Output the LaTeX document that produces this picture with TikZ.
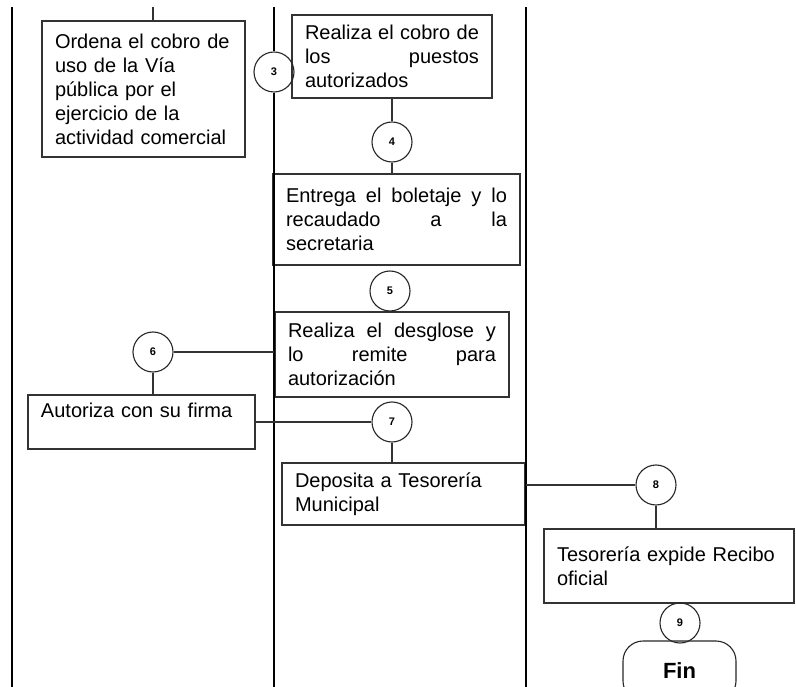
\documentclass[tikz,border=0pt]{standalone}
\usepackage{fontspec}
\setmainfont{Liberation Sans}
\begin{document}
\begin{tikzpicture}[x=1pt,y=-1pt,
    proc/.style={draw=black!80,line width=1.1pt,inner xsep=13pt,inner ysep=0pt,
      font=\fontsize{20}{24}\selectfont},
    paso/.style={circle,draw=black!85,line width=1.1pt,minimum size=40pt,inner sep=0pt,
      font=\fontsize{11}{12}\selectfont\bfseries},
    lane/.style={line width=1.4pt},
    conn/.style={draw=black!80,line width=1.1pt}]
  \useasboundingbox (0,0) rectangle (796,687);
  % actividades
  \node[proc,text width=177pt,minimum height=136pt,align=left] (ordena) at (143.5,89)
    {Ordena el cobro de\\uso de la Vía\\pública por el\\ejercicio de la\\actividad comercial};
  \node[proc,text width=174pt,minimum height=83pt,align=justify] (cobro) at (392,56.5)
    {Realiza el cobro de\linebreak los puestos\linebreak autorizados};
  \node[proc,text width=221pt,minimum height=91pt,align=justify] (entrega) at (396.5,219.5)
    {Entrega el boletaje y lo\linebreak recaudado a la\linebreak secretaria};
  \node[proc,text width=208pt,minimum height=85pt,align=justify] (desglose) at (392,354.5)
    {Realiza el desglose y\linebreak lo remite para\linebreak autorización};
  \node[proc,text width=201pt,minimum height=54pt,align=left] (autoriza) at (141.5,422)
    {Autoriza con su firma\\\mbox{}};
  \node[proc,text width=217pt,minimum height=62pt,align=left] (deposita) at (403.5,494)
    {Deposita a Tesorería\\Municipal};
  \node[proc,text width=224pt,minimum height=74pt,align=left] (recibo) at (669,566)
    {Tesorería expide Recibo\\oficial};
  \node[draw=black!85,line width=1.1pt,rounded corners=20pt,minimum width=113pt,
    minimum height=60pt,font=\fontsize{22}{26}\selectfont\bfseries] (fin) at (679.5,671) {Fin};
  % pasos
  \node[paso] (p3) at (274,72) {3};
  \node[paso] (p4) at (392,142) {4};
  \node[paso] (p5) at (390,291) {5};
  \node[paso] (p6) at (153,352) {6};
  \node[paso] (p7) at (392,422) {7};
  \node[paso] (p8) at (656,485) {8};
  \node[paso] (p9) at (680,623) {9};
  % carriles
  \coordinate (l1top) at (12,7);    \coordinate (l1bot) at (12,687);
  \coordinate (l2top) at (274,7);   \coordinate (l2bot) at (274,687);
  \coordinate (l3top) at (526,7);   \coordinate (l3bot) at (526,687);
  \coordinate (entra) at (153,7);
  \draw[lane] (l1top) -- (l1bot);
  \draw[lane] (l2top) -- (p3) -- (l2bot);
  \draw[lane] (l3top) -- (l3bot);
  % conexiones
  \draw[conn] (entra) -- (entra |- ordena.north);
  \draw[conn] (p4) -- (p4 |- cobro.south);
  \draw[conn] (p4) -- (p4 |- entrega.north);
  \draw[conn] (p6) -- (p6 -| desglose.west);
  \draw[conn] (p6) -- (p6 |- autoriza.north);
  \draw[conn] (p7) -- (p7 -| autoriza.east);
  \draw[conn] (p7) -- (p7 |- deposita.north);
  \draw[conn] (p8) -- (p8 -| deposita.east);
  \draw[conn] (p8) -- (p8 |- recibo.north);
\end{tikzpicture}
\end{document}
